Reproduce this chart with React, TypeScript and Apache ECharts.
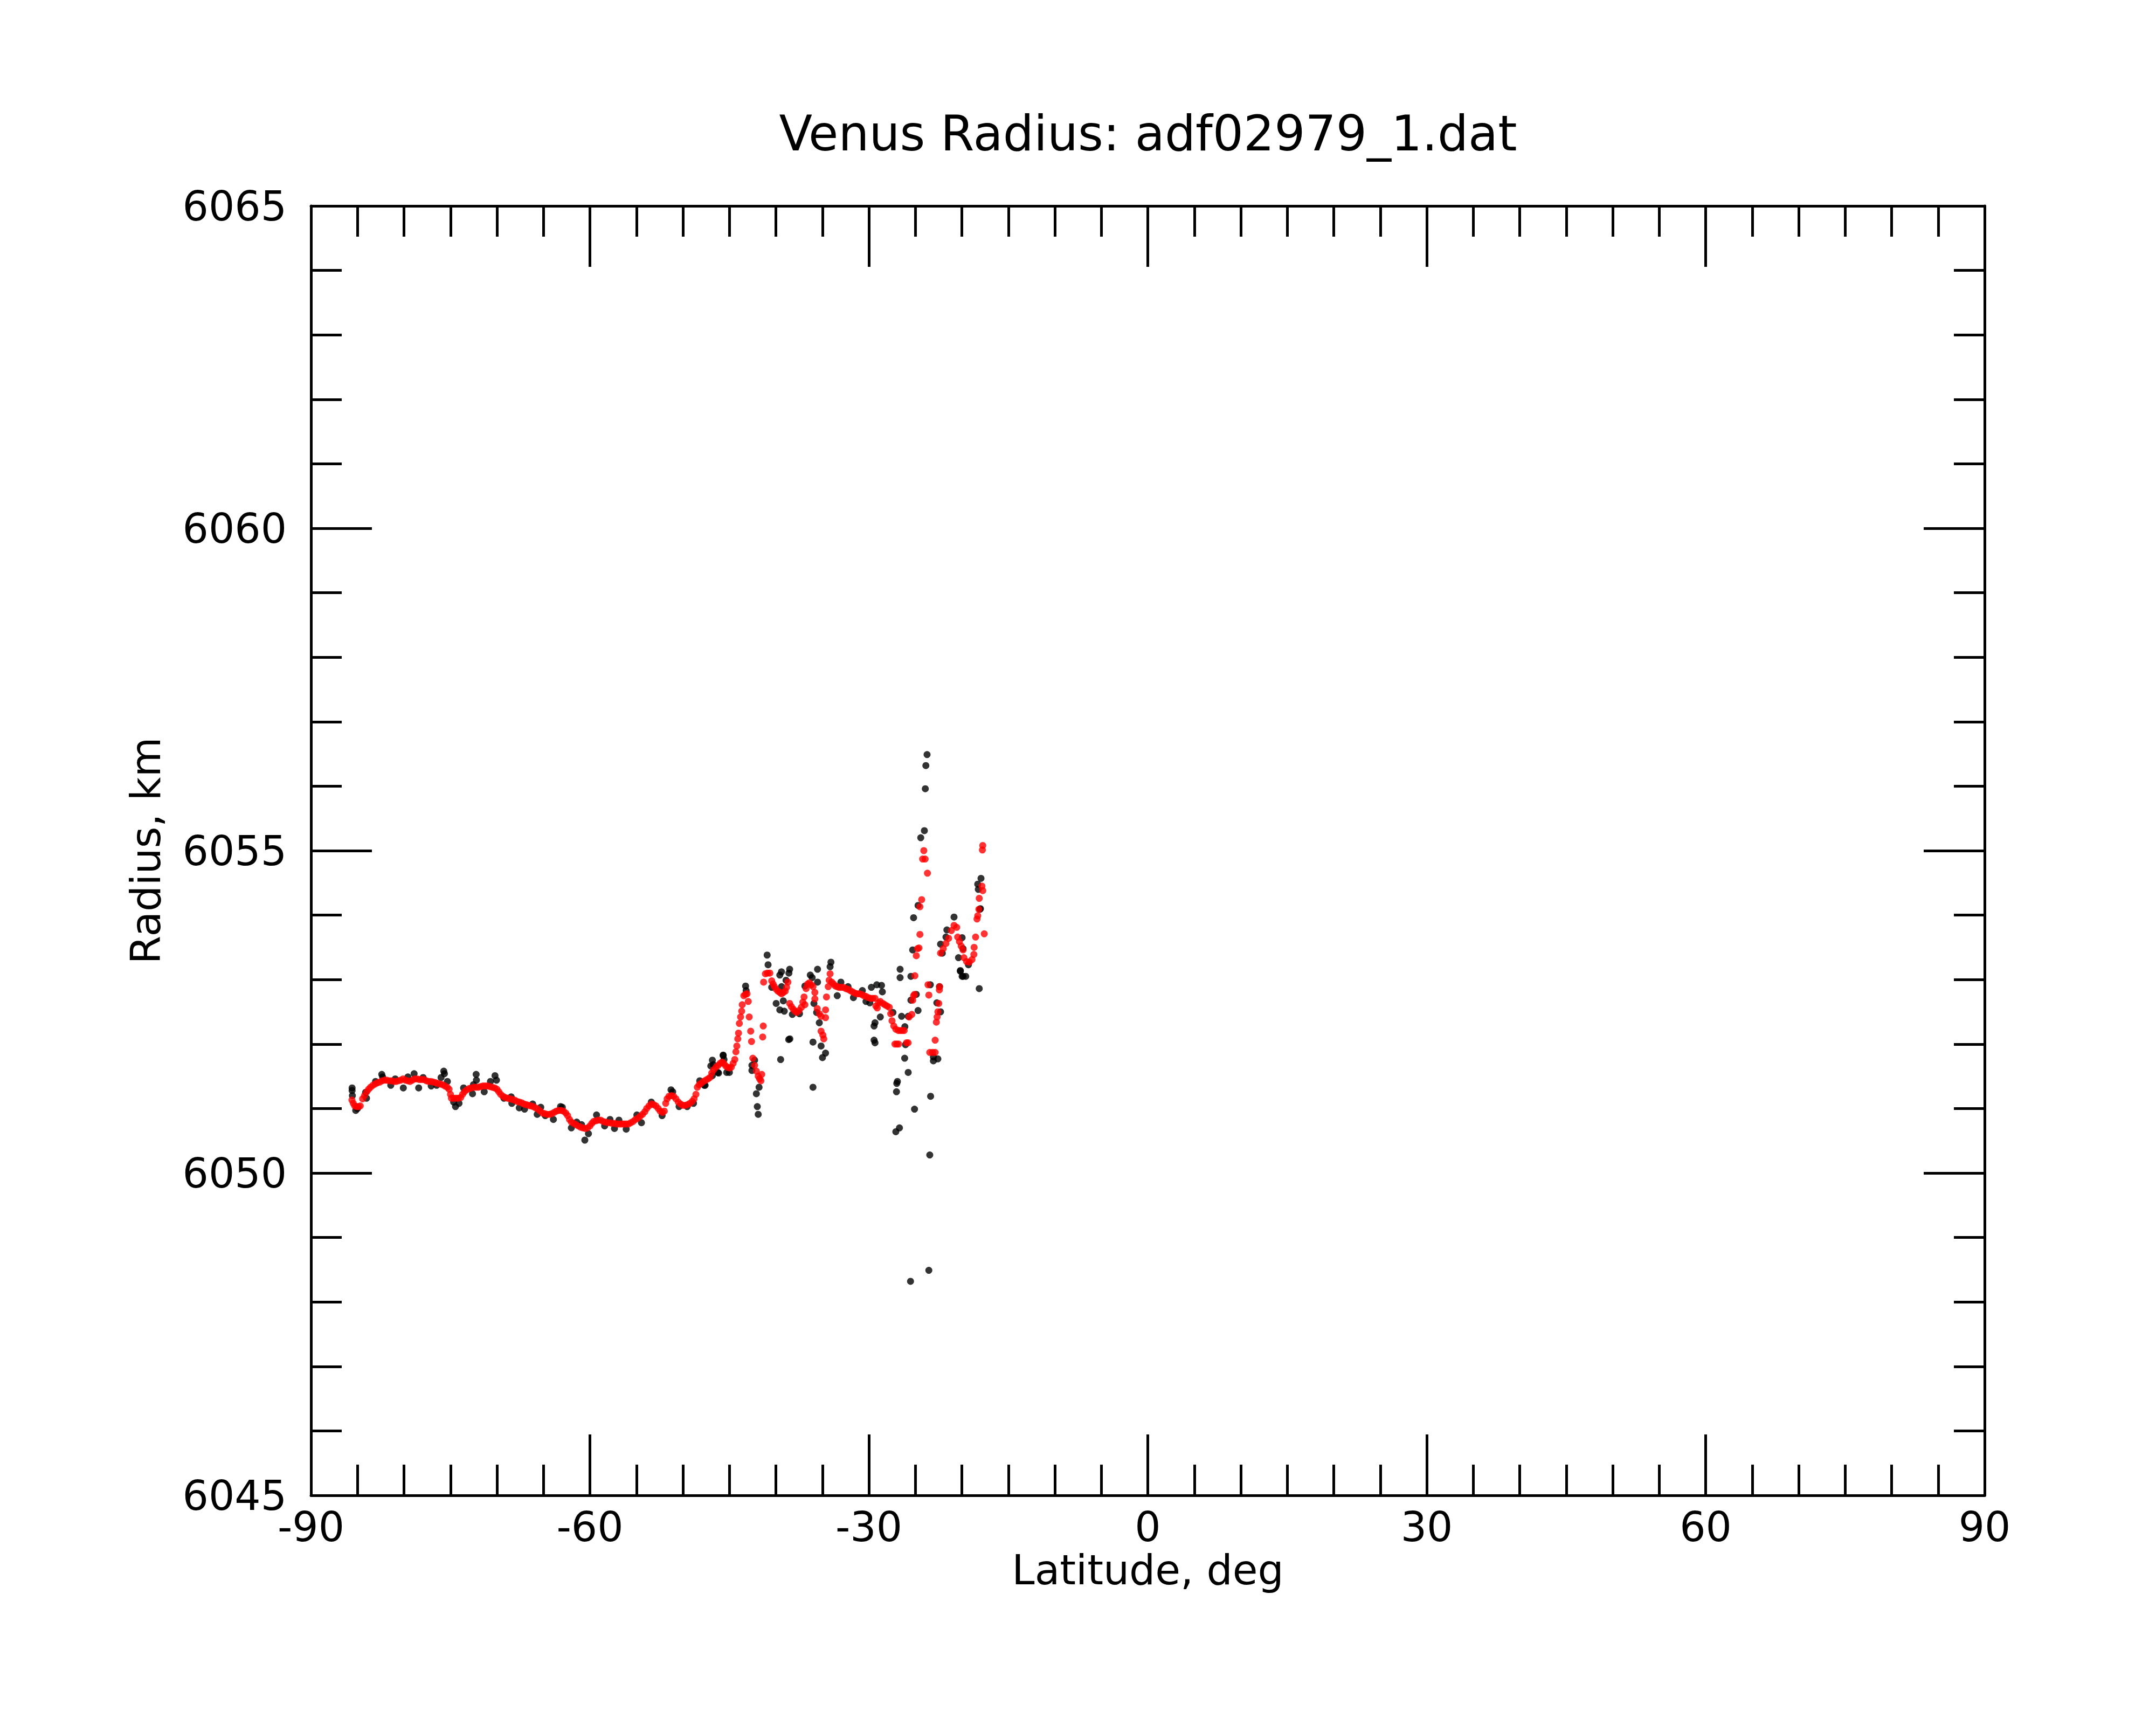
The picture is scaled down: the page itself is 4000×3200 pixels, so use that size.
import React, { useEffect, useRef } from "react";
import * as echarts from "echarts";

const TITLE = "Venus Radius: adf02979_1.dat";
const X_NAME = "Latitude, deg";
const Y_NAME = "Radius, km";
const X_RANGE = [-90, 90];
const Y_RANGE = [6045, 6065];

// Raw measurements (black dots): [latitude, radius]
const rawPoints: number[][] = [
  [-85.58, 6051.32], [-85.58, 6051.28], [-85.55, 6051.2], [-85.19, 6050.97], [-85.0, 6051.0],
  [-84.13, 6051.25], [-84.03, 6051.16], [-83.06, 6051.42], [-82.39, 6051.53], [-82.3, 6051.49],
  [-81.42, 6051.36], [-80.94, 6051.46], [-80.07, 6051.32], [-79.58, 6051.49], [-78.91, 6051.54],
  [-78.42, 6051.32], [-77.94, 6051.48], [-77.07, 6051.35], [-76.49, 6051.36], [-75.72, 6051.58],
  [-75.65, 6051.54], [-76.01, 6051.48], [-75.33, 6051.42], [-74.66, 6051.1], [-74.46, 6051.03],
  [-74.08, 6051.08], [-73.59, 6051.32], [-72.63, 6051.23], [-72.53, 6051.37], [-72.24, 6051.53],
  [-72.21, 6051.44], [-71.37, 6051.26], [-70.7, 6051.42], [-70.21, 6051.51], [-70.05, 6051.44],
  [-69.25, 6051.16], [-68.47, 6051.18], [-68.4, 6051.08], [-67.6, 6051.01], [-67.03, 6050.99],
  [-66.16, 6051.07], [-65.67, 6050.91], [-65.29, 6051.02], [-64.8, 6050.89], [-63.93, 6050.83],
  [-63.16, 6051.03], [-62.97, 6051.02], [-62.0, 6050.7], [-61.42, 6050.79], [-60.9, 6050.75],
  [-60.55, 6050.51], [-60.16, 6050.61], [-59.29, 6050.9],
  [-58.42, 6050.73], [-57.84, 6050.83], [-57.36, 6050.69], [-56.88, 6050.82], [-56.1, 6050.68],
  [-54.95, 6050.9], [-54.46, 6050.78], [-53.4, 6051.1], [-52.24, 6050.89], [-51.28, 6051.29],
  [-51.1, 6051.26], [-50.41, 6051.03], [-49.54, 6051.03], [-48.86, 6051.08], [-48.19, 6051.43],
  [-47.61, 6051.36], [-46.83, 6051.75], [-46.73, 6051.68], [-46.83, 6051.51], [-46.16, 6051.55],
  [-45.67, 6051.82], [-45.58, 6051.76], [-45.29, 6051.56], [-45.0, 6051.56],
  [-47.0, 6051.66], [-46.25, 6051.56], [-45.67, 6051.83], [-47.7, 6051.36], [-43.26, 6052.9],
  [-43.2, 6052.83], [-42.29, 6051.75], [-42.58, 6051.67], [-42.58, 6051.59], [-41.81, 6051.33],
  [-42.1, 6051.23], [-42.0, 6051.03], [-41.9, 6050.91], [-40.94, 6053.38], [-40.84, 6053.23],
  [-40.45, 6052.88], [-39.58, 6053.07], [-39.4, 6053.12], [-38.52, 6053.16], [-38.6, 6053.1],
  [-38.91, 6052.99], [-39.39, 6052.89], [-39.97, 6052.63], [-39.58, 6052.53], [-39.1, 6052.51],
  [-39.2, 6052.67], [-38.23, 6052.46], [-37.46, 6052.47], [-38.62, 6052.07], [-38.5, 6052.08],
  [-39.49, 6051.76], [-36.88, 6052.9],
  [-34.08, 6053.27], [-34.17, 6053.2], [-35.52, 6053.16], [-36.3, 6053.07], [-36.1, 6053.03],
  [-35.52, 6052.96], [-35.91, 6052.63], [-35.62, 6052.49], [-35.33, 6052.33], [-36.01, 6052.03],
  [-35.14, 6051.97], [-34.66, 6051.86], [-34.99, 6051.79], [-36.01, 6051.33], [-33.4, 6052.75],
  [-33.01, 6052.96], [-32.24, 6052.89], [-31.66, 6052.72], [-30.7, 6052.83], [-30.31, 6052.66],
  [-29.73, 6052.88], [-29.15, 6052.92], [-28.64, 6052.91], [-28.55, 6052.81], [-29.9, 6052.64],
  [-28.77, 6052.42], [-29.34, 6052.33], [-29.44, 6052.28], [-29.44, 6052.06], [-29.34, 6052.02],
  [-27.41, 6052.49], [-26.64, 6053.16], [-26.64, 6053.03], [-26.48, 6052.43], [-26.15, 6051.78],
  [-25.77, 6051.56], [-26.93, 6051.42], [-27.03, 6051.26], [-25.48, 6053.05],
  [-23.39, 6052.92], [-24.9, 6052.77], [-25.48, 6052.68], [-24.71, 6052.52], [-25.77, 6052.43],
  [-22.69, 6052.64], [-22.29, 6052.5], [-26.06, 6051.99], [-27.0, 6051.39], [-25.09, 6050.99],
  [-23.36, 6051.19], [-26.71, 6050.7], [-27.1, 6050.64], [-23.06, 6051.74], [-22.58, 6051.77],
  [-23.06, 6051.8], [-20.16, 6053.13], [-19.97, 6053.05], [-26.13, 6052.27],
  [-23.45, 6050.28], [-23.55, 6048.49], [-25.52, 6048.32],
  [-23.74, 6056.49], [-23.87, 6056.32], [-23.93, 6055.96], [-24.03, 6055.31], [-24.42, 6055.2],
  [-17.94, 6054.57], [-18.29, 6054.48], [-18.23, 6054.4], [-24.71, 6054.15], [-18.0, 6054.1],
  [-20.84, 6053.97], [-21.61, 6053.77], [-21.71, 6053.66], [-22.29, 6053.55], [-22.1, 6053.41],
  [-19.97, 6053.65], [-19.87, 6053.48], [-20.36, 6053.34], [-20.16, 6053.14], [-19.87, 6053.05],
  [-19.58, 6053.05], [-19.29, 6053.23], [-18.13, 6052.86], [-25.19, 6053.96], [-25.29, 6053.46],
  [-22.41, 6052.89], [-18.06, 6054.09],
];

// Filtered profile (red dots): [latitude, radius]
const smoothPoints: number[][] = [
  [-85.6, 6051.13], [-85.45, 6051.08], [-85.3, 6051.04], [-85.1, 6051.03], [-84.9, 6051.03],
  [-84.7, 6051.04], [-84.45, 6051.15], [-84.25, 6051.2], [-84.0, 6051.26], [-83.8, 6051.3],
  [-83.6, 6051.33], [-83.35, 6051.36], [-83.1, 6051.38], [-82.85, 6051.4], [-82.6, 6051.41],
  [-82.35, 6051.43], [-82.1, 6051.44], [-81.85, 6051.44], [-81.6, 6051.43], [-81.35, 6051.43],
  [-81.1, 6051.42], [-80.85, 6051.42], [-80.6, 6051.43], [-80.35, 6051.44], [-80.1, 6051.46],
  [-79.85, 6051.44], [-79.6, 6051.43], [-79.35, 6051.42], [-79.1, 6051.44], [-78.85, 6051.46],
  [-78.6, 6051.46], [-78.35, 6051.45], [-78.1, 6051.45], [-77.85, 6051.45], [-77.6, 6051.43],
  [-77.35, 6051.42], [-77.1, 6051.42], [-76.85, 6051.41], [-76.6, 6051.4], [-76.35, 6051.39],
  [-76.1, 6051.38], [-75.85, 6051.37], [-75.6, 6051.35], [-75.35, 6051.33], [-75.15, 6051.3],
  [-75.0, 6051.22], [-74.9, 6051.16], [-74.65, 6051.16], [-74.4, 6051.16], [-74.15, 6051.16],
  [-73.9, 6051.17], [-73.7, 6051.22], [-73.5, 6051.26], [-73.25, 6051.29], [-73.0, 6051.31],
  [-72.75, 6051.32], [-72.5, 6051.33], [-72.25, 6051.33], [-72.0, 6051.33], [-71.75, 6051.34],
  [-71.5, 6051.35], [-71.25, 6051.35], [-71.0, 6051.35], [-70.75, 6051.34], [-70.5, 6051.33],
  [-70.25, 6051.32], [-70.0, 6051.3], [-69.8, 6051.26], [-69.6, 6051.22], [-69.35, 6051.19],
  [-69.1, 6051.17], [-68.85, 6051.16], [-68.6, 6051.15], [-68.35, 6051.14], [-68.1, 6051.13],
  [-67.85, 6051.11], [-67.6, 6051.1], [-67.35, 6051.09], [-67.1, 6051.07], [-66.85, 6051.06],
  [-66.6, 6051.05], [-66.35, 6051.04], [-66.1, 6051.03], [-65.85, 6051.01], [-65.6, 6050.99],
  [-65.35, 6050.96], [-65.1, 6050.93], [-64.85, 6050.92], [-64.6, 6050.91], [-64.35, 6050.91],
  [-64.1, 6050.92], [-63.85, 6050.94], [-63.6, 6050.96], [-63.35, 6050.97], [-63.1, 6050.97],
  [-62.85, 6050.96], [-62.6, 6050.93], [-62.4, 6050.89], [-62.2, 6050.83], [-62.0, 6050.79],
  [-61.75, 6050.77], [-61.5, 6050.75], [-61.25, 6050.73], [-61.0, 6050.71], [-60.75, 6050.7],
  [-60.5, 6050.69], [-60.25, 6050.7], [-60.0, 6050.73], [-59.8, 6050.77], [-59.6, 6050.8],
  [-59.35, 6050.81], [-59.1, 6050.82], [-58.85, 6050.82], [-58.6, 6050.8], [-58.35, 6050.79],
  [-58.1, 6050.78], [-57.85, 6050.78], [-57.6, 6050.77], [-57.35, 6050.77], [-57.1, 6050.76],
  [-56.85, 6050.76], [-56.6, 6050.76], [-56.35, 6050.76], [-56.1, 6050.76], [-55.85, 6050.76],
  [-55.6, 6050.78], [-55.35, 6050.8], [-55.1, 6050.83], [-54.85, 6050.85], [-54.6, 6050.88],
  [-54.35, 6050.91], [-54.1, 6050.95], [-53.9, 6051.0], [-53.65, 6051.04], [-53.4, 6051.07],
  [-53.15, 6051.06], [-52.9, 6051.04], [-52.65, 6051.0], [-52.45, 6050.96], [-52.2, 6050.94],
  [-52.0, 6050.96], [-51.85, 6051.08], [-51.7, 6051.15], [-51.5, 6051.19], [-51.25, 6051.2],
  [-51.0, 6051.19], [-50.75, 6051.15], [-50.5, 6051.1], [-50.25, 6051.07], [-50.0, 6051.05],
  [-49.75, 6051.05], [-49.5, 6051.06], [-49.25, 6051.08], [-49.0, 6051.11], [-48.8, 6051.15],
  [-48.6, 6051.22], [-48.45, 6051.33], [-48.25, 6051.37], [-48.05, 6051.39], [-47.8, 6051.42],
  [-47.55, 6051.44], [-47.3, 6051.46], [-47.1, 6051.48], [-46.9, 6051.55], [-46.7, 6051.6],
  [-46.45, 6051.64], [-46.2, 6051.67], [-46.0, 6051.7], [-45.8, 6051.72], [-45.6, 6051.7],
  [-45.4, 6051.66], [-45.2, 6051.64], [-45.0, 6051.63], [-44.8, 6051.64], [-44.6, 6051.7],
  [-44.42, 6051.76], [-44.3, 6051.88], [-44.2, 6051.97], [-44.1, 6052.08], [-44.02, 6052.17],
  [-43.93, 6052.32], [-43.8, 6052.42], [-43.68, 6052.51], [-43.62, 6052.61], [-43.45, 6052.75],
  [-43.28, 6052.77], [-43.1, 6052.78],
  [-42.97, 6052.66], [-42.87, 6052.42], [-42.71, 6052.2], [-42.62, 6052.04], [-42.48, 6051.78],
  [-42.29, 6051.67], [-42.1, 6051.58], [-41.9, 6051.5], [-41.75, 6051.46], [-41.61, 6051.43],
  [-41.52, 6051.53], [-41.42, 6052.11], [-41.36, 6052.28],
  [-41.32, 6052.96], [-41.13, 6053.09], [-40.9, 6053.1], [-40.65, 6053.1], [-40.45, 6052.98],
  [-40.3, 6052.93], [-40.16, 6052.89], [-39.97, 6052.85], [-39.78, 6052.82], [-39.58, 6052.8],
  [-39.39, 6052.78], [-39.2, 6052.8], [-39.0, 6052.82], [-38.85, 6052.88], [-38.71, 6052.96],
  [-38.52, 6052.63], [-38.33, 6052.58], [-38.13, 6052.54], [-37.95, 6052.51], [-37.75, 6052.49],
  [-37.5, 6052.52], [-37.26, 6052.57], [-37.1, 6052.65], [-36.97, 6052.73], [-36.88, 6052.61],
  [-36.75, 6052.86], [-36.6, 6052.93], [-36.4, 6052.95], [-36.2, 6052.92], [-36.01, 6052.89],
  [-35.81, 6052.8], [-35.81, 6052.7], [-35.55, 6052.55], [-35.33, 6052.47], [-35.14, 6052.43],
  [-34.66, 6052.53], [-34.66, 6052.41], [-35.14, 6052.2], [-34.95, 6052.14], [-34.85, 6052.08],
  [-34.56, 6052.73], [-34.37, 6052.89], [-34.27, 6052.99], [-34.17, 6053.09], [-33.99, 6052.96],
  [-33.79, 6052.93], [-33.6, 6052.9], [-33.4, 6052.89], [-33.21, 6052.88], [-32.97, 6052.88],
  [-32.73, 6052.88], [-32.48, 6052.86], [-32.24, 6052.85], [-32.0, 6052.83], [-31.76, 6052.81],
  [-31.52, 6052.79], [-31.28, 6052.78], [-31.03, 6052.78], [-30.79, 6052.77], [-30.55, 6052.75],
  [-30.31, 6052.74], [-30.07, 6052.72], [-29.83, 6052.71], [-29.58, 6052.71], [-29.34, 6052.71],
  [-29.25, 6052.59], [-29.1, 6052.56], [-28.95, 6052.64], [-28.77, 6052.66], [-28.5, 6052.63],
  [-28.28, 6052.61], [-28.05, 6052.59], [-27.8, 6052.57], [-27.65, 6052.47], [-27.51, 6052.36],
  [-27.32, 6052.28], [-27.1, 6052.23], [-26.83, 6052.21], [-26.6, 6052.21], [-26.4, 6052.21],
  [-26.2, 6052.21], [-27.2, 6052.0], [-27.0, 6052.0], [-26.8, 6052.0], [-25.95, 6052.02],
  [-25.78, 6052.02], [-25.67, 6052.42], [-25.38, 6052.46], [-25.28, 6052.68], [-25.09, 6052.77],
  [-25.19, 6052.75], [-25.05, 6053.06], [-24.9, 6053.37], [-24.77, 6053.48], [-24.61, 6053.49],
  [-24.51, 6053.7], [-24.51, 6054.13], [-24.32, 6054.24], [-24.22, 6054.87], [-23.95, 6054.87],
  [-24.09, 6055.0], [-23.7, 6054.65], [-23.64, 6052.92], [-23.55, 6052.76], [-23.45, 6051.87],
  [-23.15, 6051.87], [-22.87, 6051.87], [-22.87, 6052.06], [-22.74, 6052.34], [-22.66, 6052.42],
  [-22.58, 6052.5], [-22.48, 6052.63], [-22.42, 6052.84], [-22.39, 6052.89],
  [-22.29, 6053.41], [-22.0, 6053.48], [-21.71, 6053.56], [-21.42, 6053.64], [-21.13, 6053.76],
  [-20.84, 6053.84], [-20.55, 6053.81], [-20.45, 6053.66], [-20.26, 6053.59], [-20.07, 6053.52],
  [-19.87, 6053.46], [-19.78, 6053.34], [-19.49, 6053.28], [-19.2, 6053.27], [-18.91, 6053.31],
  [-18.71, 6053.39], [-18.68, 6053.5], [-18.52, 6053.66], [-18.37, 6053.94], [-18.29, 6053.99],
  [-18.17, 6054.09], [-18.13, 6054.26], [-17.84, 6054.45], [-17.75, 6054.38], [-17.79, 6055.01],
  [-17.75, 6055.08], [-17.59, 6053.71],
];

const FONT = "DejaVu Sans";
const LINE = 5;

function axisBase(showLabel: boolean, majorLen: number, minorLen: number, split: number) {
  return {
    type: "value",
    axisLine: { show: true, onZero: false, lineStyle: { color: "#000", width: LINE } },
    axisTick: { show: true, inside: true, length: majorLen, lineStyle: { color: "#000", width: LINE } },
    minorTick: { show: true, splitNumber: split, length: minorLen, lineStyle: { color: "#000", width: LINE } },
    splitLine: { show: false },
    minorSplitLine: { show: false },
    axisLabel: {
      show: showLabel,
      fontSize: 76,
      color: "#000",
      fontFamily: FONT,
      formatter: (v: number) => String(v),
    },
  };
}

export default function App() {
  const ref = useRef<HTMLDivElement>(null);
  useEffect(() => {
    if (!ref.current) return;
    const chart = echarts.init(ref.current, null, { renderer: "svg", width: 4000, height: 3200 });
    const xb = axisBase(true, 113, 57, 6);
    const xt = axisBase(false, 113, 57, 6);
    const yl = axisBase(true, 113, 57, 5);
    const yr = axisBase(false, 113, 57, 5);
    chart.setOption({
      animation: false,
      backgroundColor: "#fff",
      textStyle: { fontFamily: FONT },
      grid: { left: 577, top: 382, width: 3105, height: 2392, containLabel: false },
      graphic: [
        {
          type: "text",
          x: 2130,
          y: 247,
          style: {
            text: TITLE,
            fontSize: 90,
            fontFamily: FONT,
            fill: "#000",
            align: "center",
            verticalAlign: "middle",
          },
        },
      ],
      xAxis: [
        {
          ...xb,
          position: "bottom",
          min: X_RANGE[0],
          max: X_RANGE[1],
          interval: 30,
          axisLabel: { ...xb.axisLabel, margin: 20 },
          name: X_NAME,
          nameLocation: "middle",
          nameGap: 98,
          nameTextStyle: { fontSize: 76, color: "#000", fontFamily: FONT },
        },
        { ...xt, position: "top", min: X_RANGE[0], max: X_RANGE[1], interval: 30 },
      ],
      yAxis: [
        {
          ...yl,
          position: "left",
          min: Y_RANGE[0],
          max: Y_RANGE[1],
          interval: 5,
          axisLabel: { ...yl.axisLabel, margin: 45 },
          name: Y_NAME,
          nameLocation: "middle",
          nameRotate: 90,
          nameGap: 269,
          nameTextStyle: { fontSize: 76, color: "#000", fontFamily: FONT },
        },
        { ...yr, position: "right", min: Y_RANGE[0], max: Y_RANGE[1], interval: 5 },
      ],
      series: [
        {
          type: "scatter",
          name: "raw",
          xAxisIndex: 0,
          yAxisIndex: 0,
          data: rawPoints,
          symbol: "circle",
          symbolSize: 13,
          itemStyle: { color: "#000000" },
          silent: true,
          z: 2,
        },
        {
          type: "scatter",
          name: "filtered",
          xAxisIndex: 0,
          yAxisIndex: 0,
          data: smoothPoints,
          symbol: "circle",
          symbolSize: 13,
          itemStyle: { color: "#ff0000" },
          silent: true,
          z: 3,
        },
      ],
    });
    return () => chart.dispose();
  }, []);
  return (
    <div
      ref={ref}
      style={{ position: "absolute", left: 0, top: 0, width: 4000, height: 3200, background: "#fff" }}
    />
  );
}
